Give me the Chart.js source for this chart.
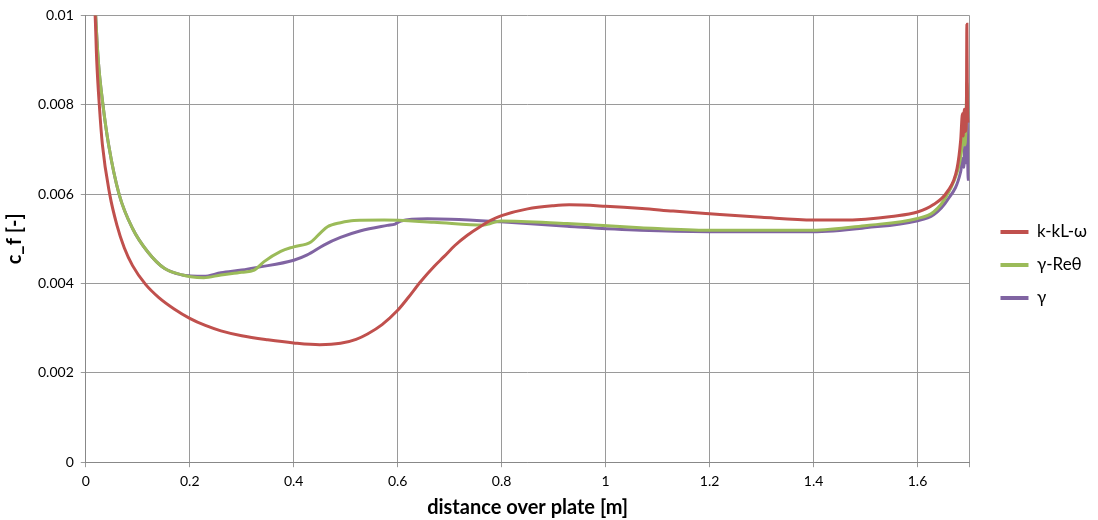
<!DOCTYPE html>
<html>
<head>
<meta charset="utf-8">
<script src="https://cdn.jsdelivr.net/npm/chart.js@4.4.1/dist/chart.umd.min.js"></script>
<style>
  html, body { margin: 0; padding: 0; background: #fff; }
  #wrap { width: 1098px; height: 520px; }
</style>
</head>
<body>
<div id="wrap"><canvas id="cf_chart" width="1098" height="520"></canvas></div>
<script>
// SERIES NAMES
const series_names = ["k-kL-ω", "γ-Reθ", "γ"];

// k-kL-omega
const x_kkl = [0.014, 0.018, 0.021, 0.026, 0.032, 0.046, 0.06, 0.074, 0.09, 0.115, 0.14, 0.17, 0.2, 0.23, 0.26, 0.3, 0.35, 0.4, 0.45, 0.49, 0.52, 0.542, 0.57, 0.6, 0.62, 0.644, 0.67, 0.689, 0.71, 0.734, 0.76, 0.78, 0.8, 0.85, 0.9, 0.93, 1.0, 1.07, 1.13, 1.2, 1.3, 1.4, 1.45, 1.5, 1.55, 1.6, 1.63, 1.657, 1.676, 1.683, 1.6865, 1.688, 1.69, 1.692, 1.694, 1.695, 1.696, 1.698];
const cf_kkl = [0.0106, 0.0100, 0.0090, 0.0080, 0.0071, 0.0060, 0.0053, 0.0048, 0.0044, 0.00398, 0.00369, 0.00343, 0.00322, 0.00306, 0.00294, 0.00283, 0.00274, 0.00267, 0.00263, 0.00266, 0.00275, 0.00287, 0.00308, 0.0034, 0.00368, 0.00404, 0.00438, 0.0046, 0.00485, 0.00508, 0.00528, 0.00542, 0.00552, 0.00567, 0.00574, 0.00576, 0.00573, 0.00568, 0.00562, 0.00556, 0.00548, 0.00542, 0.00542, 0.00544, 0.0055, 0.0056, 0.00576, 0.00605, 0.00657, 0.0072, 0.0078, 0.0073, 0.0079, 0.0074, 0.0077, 0.0098, 0.0081, 0.0076];

// gamma-Re_theta
const x_rt = [0.016, 0.019, 0.024, 0.033, 0.044, 0.064, 0.09, 0.119, 0.151, 0.186, 0.202, 0.227, 0.26, 0.3, 0.324, 0.343, 0.375, 0.4, 0.433, 0.452, 0.465, 0.49, 0.516, 0.574, 0.67, 0.766, 0.798, 0.926, 1.067, 1.198, 1.398, 1.503, 1.598, 1.631, 1.657, 1.679, 1.684, 1.688, 1.691, 1.693, 1.695, 1.697];
const cf_rt = [0.0108, 0.0100, 0.0090, 0.0080, 0.0071, 0.0060, 0.00523, 0.00471, 0.00434, 0.00419, 0.00415, 0.00413, 0.00419, 0.00425, 0.0043, 0.00449, 0.00472, 0.00482, 0.00493, 0.00514, 0.00527, 0.00536, 0.00541, 0.00542, 0.00537, 0.00531, 0.0054, 0.00534, 0.00525, 0.00519, 0.00519, 0.0053, 0.00545, 0.0056, 0.00598, 0.0066, 0.0069, 0.0073, 0.0071, 0.0074, 0.0085, 0.0078];

// gamma
const x_g = [0.016, 0.019, 0.024, 0.033, 0.044, 0.064, 0.09, 0.119, 0.151, 0.186, 0.202, 0.227, 0.26, 0.3, 0.33, 0.4, 0.426, 0.458, 0.49, 0.529, 0.58, 0.595, 0.606, 0.657, 0.702, 0.798, 0.926, 1.067, 1.198, 1.398, 1.503, 1.598, 1.631, 1.657, 1.683, 1.687, 1.689, 1.691, 1.693, 1.695, 1.697, 1.698];
const cf_g = [0.0108, 0.0100, 0.0090, 0.0080, 0.0071, 0.0060, 0.00523, 0.00471, 0.00434, 0.00419, 0.00417, 0.00416, 0.00424, 0.0043, 0.00436, 0.00452, 0.00464, 0.00486, 0.00503, 0.00518, 0.0053, 0.00533, 0.0054, 0.00545, 0.00544, 0.00538, 0.00528, 0.00519, 0.00516, 0.00516, 0.00525, 0.0054, 0.00554, 0.00586, 0.0065, 0.0068, 0.0066, 0.0071, 0.0067, 0.0083, 0.0065, 0.0063];

// AXIS TICKS
const x_ticks = [0, 0.2, 0.4, 0.6, 0.8, 1, 1.2, 1.4, 1.6];
const y_ticks = [0, 0.002, 0.004, 0.006, 0.008, 0.01];

const colors = ["#C0504D", "#9BBB59", "#8064A2"];

function toPoints(xs, ys) {
  return xs.map((x, i) => ({ x: x, y: ys[i] }));
}

const font_name = "Lato, 'Open Sans', sans-serif";
const grid_color = "#9a9a9a";

const ctx = document.getElementById("cf_chart").getContext("2d");

let my_chart = new Chart(ctx, {
  type: "line",
  data: {
    datasets: [
      { label: series_names[0], data: toPoints(x_kkl, cf_kkl) },
      { label: series_names[1], data: toPoints(x_rt, cf_rt) },
      { label: series_names[2], data: toPoints(x_g, cf_g) },
    ].map((d, i) => Object.assign(d, {
      borderColor: colors[i],
      backgroundColor: colors[i],
      borderWidth: 3,
      pointRadius: 0,
      fill: false,
      cubicInterpolationMode: "monotone",
    })),
  },
  options: {
    responsive: false,
    animation: false,
    layout: { padding: { left: 3, right: 1, top: -2, bottom: 0 } },
    plugins: {
      tooltip: { enabled: false },
      legend: {
        position: "right",
        title: { display: true, text: "", font: { size: 10 }, padding: 0 },
        labels: {
          font: { family: font_name, size: 17 },
          color: "#000",
          boxWidth: 28,
          boxHeight: 4,
          padding: 16,
          generateLabels: (chart) => {
            const items = Chart.defaults.plugins.legend.labels.generateLabels(chart);
            items.forEach(it => { it.lineWidth = 0; });
            return items;
          },
        },
      },
    },
    scales: {
      x: {
        type: "linear",
        min: 0,
        max: 1.7,
        afterBuildTicks: (axis) => {
          axis.ticks = x_ticks.map(v => ({ value: v })).concat([{ value: 1.7 }]);
        },
        ticks: {
          font: { family: font_name, size: 14 },
          color: "#000",
          padding: 6,
          maxRotation: 0,
          callback: (v) => (x_ticks.includes(v) ? String(v) : ""),
        },
        grid: { color: grid_color, tickLength: 5, tickColor: grid_color },
        border: { color: "#888888" },
        title: {
          display: true,
          text: "distance over plate [m]",
          font: { family: font_name, size: 20, weight: "bold" },
          color: "#000",
          padding: { top: 0, bottom: 0 },
        },
      },
      y: {
        min: 0,
        max: 0.01,
        afterBuildTicks: (axis) => {
          axis.ticks = y_ticks.map(v => ({ value: v }));
        },
        ticks: {
          font: { family: font_name, size: 14 },
          color: "#000",
          padding: 7,
          callback: (v) => String(v),
        },
        grid: { color: grid_color, tickLength: 5, tickColor: grid_color },
        border: { color: "#888888" },
        title: {
          display: true,
          text: "c_f [-]",
          font: { family: font_name, size: 20, weight: "bold" },
          color: "#000",
          padding: { top: 0, bottom: 4 },
        },
      },
      // empty gap between plot area and legend
      gap: {
        position: "right",
        display: true,
        min: 0,
        max: 1,
        grid: { display: false, drawTicks: false },
        ticks: { display: false },
        border: { display: false },
        afterFit: (axis) => { axis.width = 15; },
      },
    },
  },
});
</script>
</body>
</html>
